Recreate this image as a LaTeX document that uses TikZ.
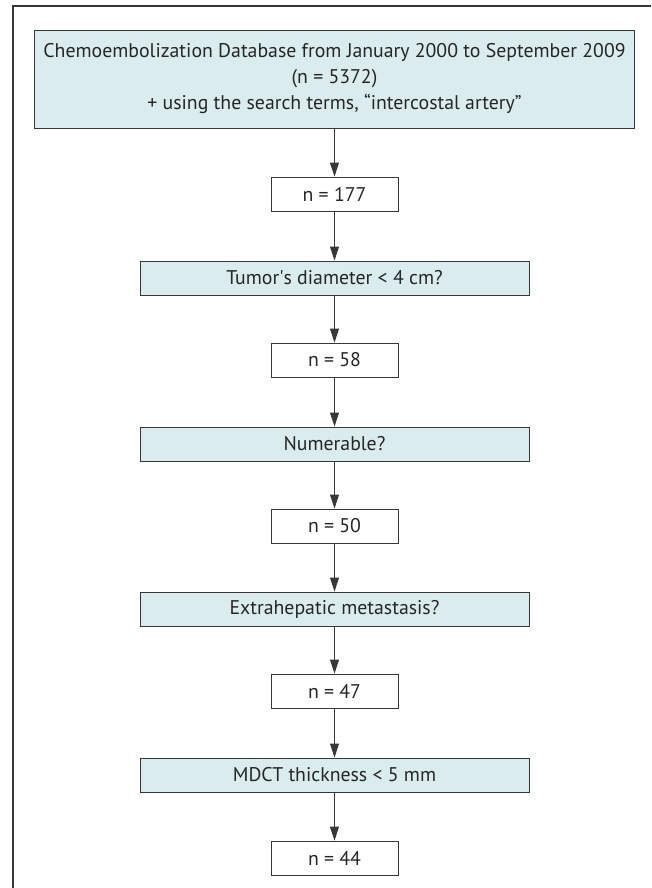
\documentclass[tikz,border=0pt]{standalone}
\usepackage{fontspec}
\setmainfont{PT Sans}
\usetikzlibrary{arrows.meta}
\definecolor{boxfill}{RGB}{218,236,238}
\definecolor{boxline}{RGB}{55,55,55}
\begin{document}
\begin{tikzpicture}[x=1pt,y=-1pt]
	\useasboundingbox (0,0) rectangle (651,888);
	\draw[boxline,line width=1.2pt] (13,888)--(13,6)--(651,6);
	\tikzstyle every node=[draw=boxline,line width=0.9pt,inner sep=0pt,text=black!85,font=\fontsize{19.8}{26}\selectfont,minimum height=34pt]
	\tikzstyle crit=[fill=boxfill,minimum width=389pt]
	\tikzstyle count=[fill=white,minimum width=127pt]
	\tikzstyle flow=[boxline,line width=0.9pt,-{Triangle[length=14pt,width=9pt]}]

	\node (db)[fill=boxfill,minimum width=600pt,minimum height=98pt,align=center] at (334.5,79) {Chemoembolization Database from January 2000 to September 2009\\(n = 5372)\\+ using the search terms, “intercostal artery”};
	\node (n1)[count] at (334.5,194) {n = 177};
	\node (q1)[crit] at (334.5,278) {Tumor\textquotesingle s diameter < 4 cm?};
	\node (n2)[count] at (334.5,360) {n = 58};
	\node (q2)[crit] at (334.5,444) {Numerable?};
	\node (n3)[count] at (334.5,526) {n = 50};
	\node (q3)[crit] at (334.5,609) {Extrahepatic metastasis?};
	\node (n4)[count] at (334.5,691) {n = 47};
	\node (q4)[crit] at (334.5,775) {MDCT thickness < 5 mm};
	\node (n5)[count] at (334.5,858) {n = 44};

	\draw[flow] (db)--(n1);
	\draw[flow] (n1)--(q1);
	\draw[flow] (q1)--(n2);
	\draw[flow] (n2)--(q2);
	\draw[flow] (q2)--(n3);
	\draw[flow] (n3)--(q3);
	\draw[flow] (q3)--(n4);
	\draw[flow] (n4)--(q4);
	\draw[flow] (q4)--(n5);
\end{tikzpicture}
\end{document}
